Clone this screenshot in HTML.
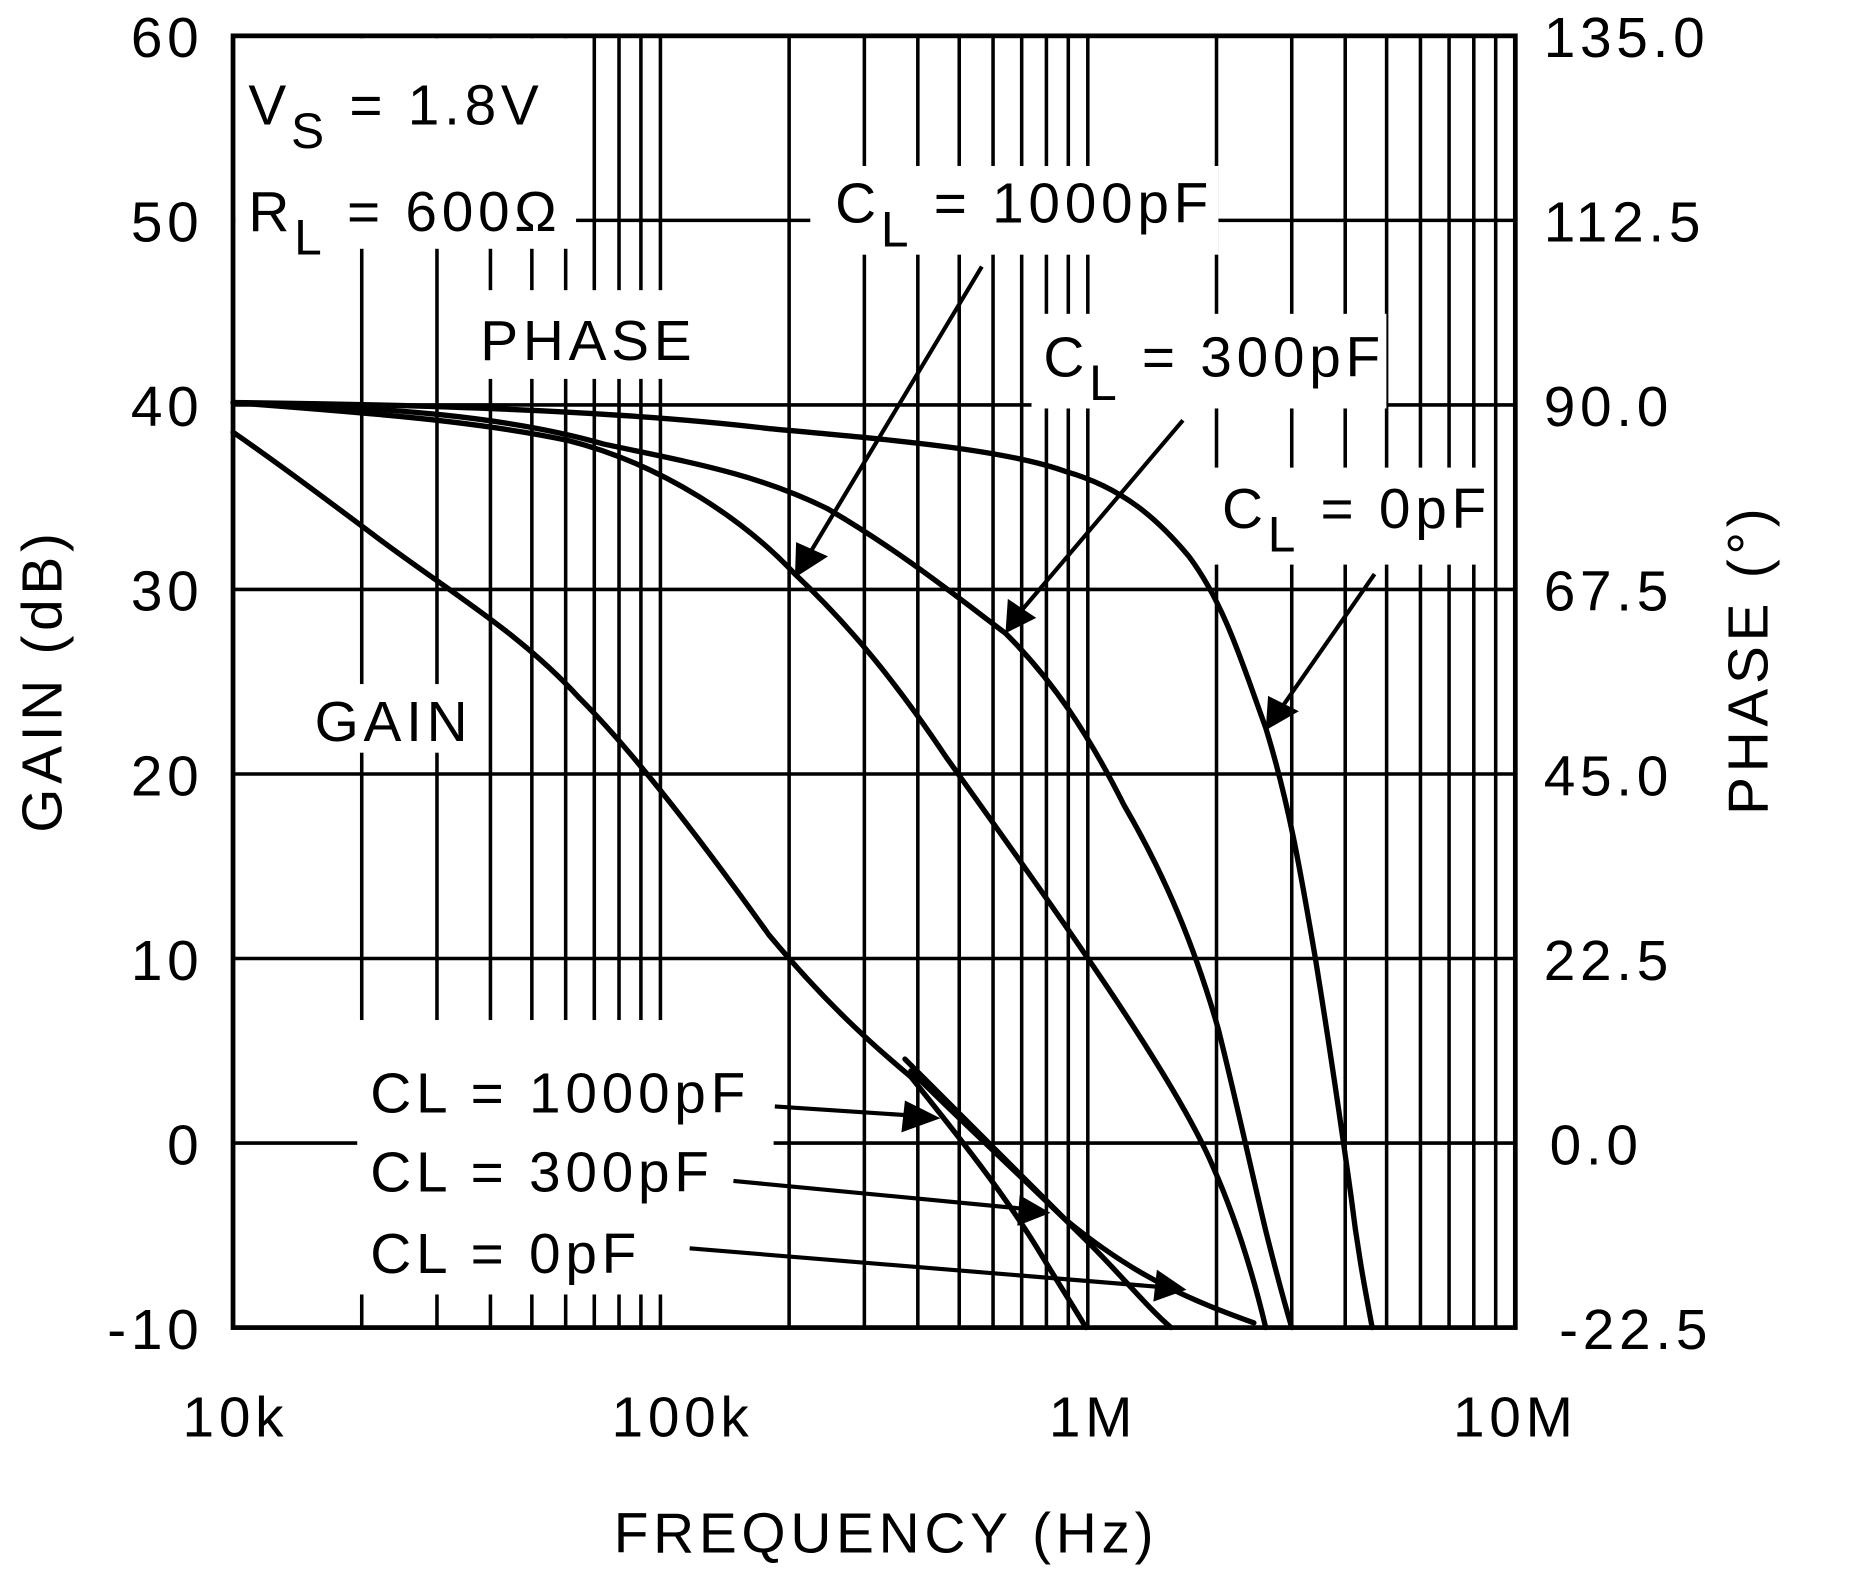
<!DOCTYPE html>
<html><head><meta charset="utf-8"><style>
html,body{margin:0;padding:0;background:#fff}
svg{display:block}
text{font-family:"Liberation Sans",Arial,sans-serif;fill:#000;letter-spacing:4px}
</style></head><body>
<svg width="1856" height="1574" viewBox="0 0 1569 1330" xmlns="http://www.w3.org/2000/svg">
<rect width="1569" height="1330" fill="#fff"/>
<g id="grid" stroke="#000" stroke-width="3">
<line x1="197" y1="186" x2="1281" y2="186"/>
<line x1="197" y1="342" x2="1281" y2="342"/>
<line x1="197" y1="498" x2="1281" y2="498"/>
<line x1="197" y1="654" x2="1281" y2="654"/>
<line x1="197" y1="810" x2="1281" y2="810"/>
<line x1="197" y1="966" x2="1281" y2="966"/>
<line x1="305.8" y1="30" x2="305.8" y2="1122"/><line x1="369.4" y1="30" x2="369.4" y2="1122"/>
<line x1="414.6" y1="30" x2="414.6" y2="1122"/><line x1="449.6" y1="30" x2="449.6" y2="1122"/>
<line x1="478.2" y1="30" x2="478.2" y2="1122"/><line x1="502.4" y1="30" x2="502.4" y2="1122"/>
<line x1="523.3" y1="30" x2="523.3" y2="1122"/><line x1="541.8" y1="30" x2="541.8" y2="1122"/>
<line x1="558.3" y1="30" x2="558.3" y2="1122"/>
<line x1="667.1" y1="30" x2="667.1" y2="1122"/><line x1="730.7" y1="30" x2="730.7" y2="1122"/>
<line x1="775.9" y1="30" x2="775.9" y2="1122"/><line x1="810.9" y1="30" x2="810.9" y2="1122"/>
<line x1="839.5" y1="30" x2="839.5" y2="1122"/><line x1="863.7" y1="30" x2="863.7" y2="1122"/>
<line x1="884.6" y1="30" x2="884.6" y2="1122"/><line x1="903.1" y1="30" x2="903.1" y2="1122"/>
<line x1="919.6" y1="30" x2="919.6" y2="1122"/>
<line x1="1028.4" y1="30" x2="1028.4" y2="1122"/><line x1="1092" y1="30" x2="1092" y2="1122"/>
<line x1="1137.2" y1="30" x2="1137.2" y2="1122"/><line x1="1172.2" y1="30" x2="1172.2" y2="1122"/>
<line x1="1200.8" y1="30" x2="1200.8" y2="1122"/><line x1="1225" y1="30" x2="1225" y2="1122"/>
<line x1="1245.9" y1="30" x2="1245.9" y2="1122"/><line x1="1264.4" y1="30" x2="1264.4" y2="1122"/>
</g>
<g fill="#fff">
<rect x="199" y="32" width="288" height="178"/>
<rect x="395" y="245" width="205" height="75"/>
<rect x="685" y="140" width="345" height="75"/>
<rect x="872" y="265" width="300" height="80"/>
<rect x="1025" y="395" width="236" height="82"/>
<rect x="258" y="578" width="148" height="58"/>
<rect x="302" y="862" width="352" height="232"/>
</g>
<rect x="197" y="30" width="1084" height="1092" fill="none" stroke="#000" stroke-width="4"/>
<g fill="none" stroke="#000" stroke-width="4.5" stroke-linejoin="round" stroke-linecap="round">
<path d="M197,340 C400,342 550,350 650,362 C760,372 850,380 900,398 C950,412 980,440 1005,470 C1035,510 1050,560 1070,615 C1090,680 1100,740 1112,810 C1125,890 1135,960 1142,1010 C1148,1060 1155,1095 1160,1122"/>
<path d="M197,340 C330,344 430,352 510,375 C580,390 640,400 700,430 C760,465 810,505 850,535 C890,575 920,620 950,680 C985,740 1010,800 1030,870 C1045,930 1058,990 1070,1040 C1080,1080 1087,1105 1092,1122"/>
<path d="M197,340 C300,348 400,355 480,372 C560,392 630,440 672,485 C720,530 760,580 800,640 C850,710 900,780 940,840 C980,900 1010,950 1025,985 C1045,1030 1060,1080 1070,1122"/>
<path d="M197,365 C240,395 280,425 320,455 C380,500 440,535 490,590 C540,640 600,720 650,790 C700,850 740,885 770,910"/>
<path d="M770,910 C810,960 850,1010 880,1060 C895,1085 908,1105 918,1122"/>
<path d="M770,905 C820,955 870,1000 920,1050 C950,1080 970,1105 990,1122"/>
<path d="M765,895 C810,940 850,980 900,1030 C960,1080 1010,1100 1060,1118"/>
</g>
<g stroke="#000" stroke-width="3.5" fill="none">
<line x1="830" y1="225" x2="683" y2="470"/>
<line x1="1000" y1="355" x2="860" y2="520"/>
<line x1="1162" y1="485" x2="1082" y2="600"/>
<line x1="655" y1="935" x2="775" y2="943"/>
<line x1="620" y1="998" x2="870" y2="1022"/>
<line x1="583" y1="1055" x2="985" y2="1088"/>
</g>
<g fill="#000">
<polygon points="672,488 673,458 700,470"/>
<polygon points="850,535 852,506 876,522"/>
<polygon points="1070,617 1072,588 1098,601"/>
<polygon points="795,945 765,930 762,957"/>
<polygon points="888,1025 862,1010 860,1036"/>
<polygon points="1003,1090 978,1073 975,1100"/>
</g>
<g font-size="48" text-anchor="end">
<text x="172" y="48">60</text><text x="172" y="204">50</text><text x="172" y="360">40</text>
<text x="172" y="516">30</text><text x="172" y="672">20</text><text x="172" y="828">10</text>
<text x="172" y="984">0</text><text x="172" y="1140">-10</text>
</g>
<g font-size="48" text-anchor="start">
<text x="1305" y="48">135.0</text><text x="1305" y="204">112.5</text><text x="1305" y="360">90.0</text>
<text x="1305" y="516">67.5</text><text x="1305" y="672">45.0</text><text x="1305" y="828">22.5</text>
<text x="1310" y="984">0.0</text><text x="1318" y="1140">-22.5</text>
</g>
<g font-size="48" text-anchor="middle">
<text x="199" y="1214">10k</text><text x="577" y="1214">100k</text>
<text x="924" y="1214">1M</text><text x="1281" y="1214">10M</text>
<text x="749" y="1312">FREQUENCY (Hz)</text>
<text transform="translate(52,575) rotate(-90)">GAIN (dB)</text>
<text transform="translate(1494,557) rotate(-90)">PHASE (°)</text>
</g>
<g font-size="48">
<text x="210" y="105">V<tspan font-size="42" dy="20">S</tspan><tspan dy="-20"> = 1.8V</tspan></text>
<text x="210" y="195">R<tspan font-size="42" dy="20">L</tspan><tspan dy="-20"> = 600Ω</tspan></text>
<text x="406" y="304">PHASE</text>
<text x="266" y="626">GAIN</text>
<text x="706" y="188">C<tspan font-size="42" dy="20">L</tspan><tspan dy="-20"> = 1000pF</tspan></text>
<text x="882" y="318">C<tspan font-size="42" dy="20">L</tspan><tspan dy="-20"> = 300pF</tspan></text>
<text x="1033" y="446">C<tspan font-size="42" dy="20">L</tspan><tspan dy="-20"> = 0pF</tspan></text>
<text x="313" y="940">CL = 1000pF</text>
<text x="313" y="1007">CL = 300pF</text>
<text x="313" y="1076">CL = 0pF</text>
</g>
</svg>
</body></html>
